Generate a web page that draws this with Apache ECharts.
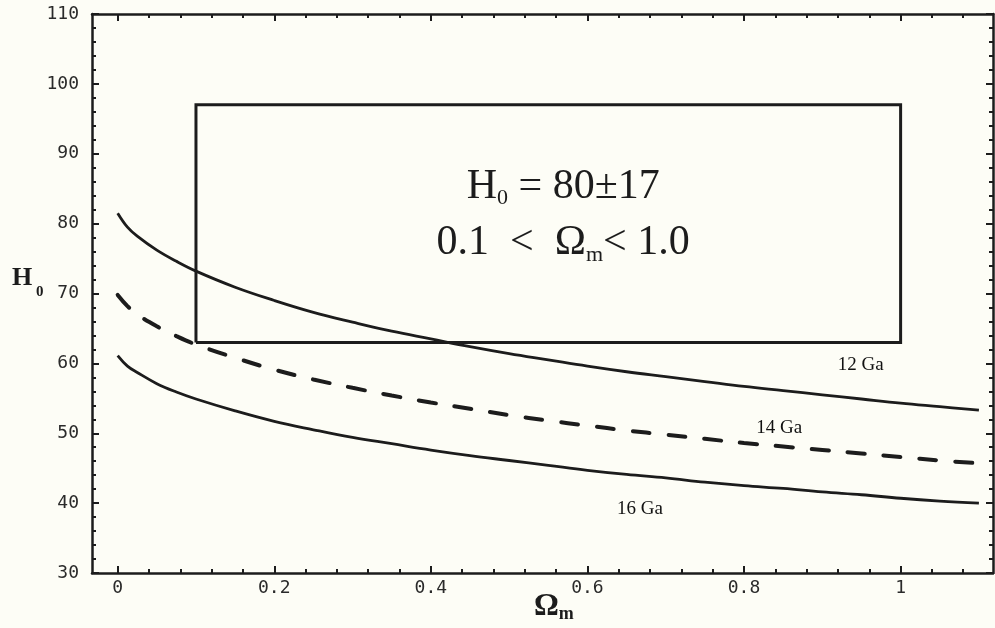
<!DOCTYPE html>
<html>
<head>
<meta charset="utf-8">
<script src="https://cdn.jsdelivr.net/npm/echarts@6/dist/echarts.min.js"></script>
<style>
  html, body { margin: 0; padding: 0; background: #fdfdf6; }
  #chart { width: 995px; height: 628px; }
</style>
</head>
<body>
<div id="chart"></div>
<script>
// Hubble constant vs. matter density for three universe ages
const omegaM = [0, 0.0125, 0.025, 0.05, 0.075, 0.1, 0.15, 0.2, 0.25, 0.3, 0.35, 0.4, 0.45, 0.5, 0.55, 0.6,
                0.65, 0.7, 0.75, 0.8, 0.85, 0.9, 0.95, 1.0, 1.05, 1.1];
const h12Ga = [81.5, 79.5, 78.2, 76.2, 74.6, 73.2, 70.9, 69.0, 67.3, 65.9, 64.6, 63.5, 62.4, 61.4, 60.5, 59.6,
               58.8, 58.1, 57.4, 56.7, 56.1, 55.5, 54.9, 54.3, 53.8, 53.3];
const h14Ga = [69.8, 68.2, 67.0, 65.3, 63.9, 62.7, 60.8, 59.1, 57.7, 56.5, 55.4, 54.4, 53.5, 52.6, 51.8, 51.1,
               50.4, 49.8, 49.2, 48.6, 48.1, 47.6, 47.1, 46.6, 46.1, 45.7];
const h16Ga = [61.1, 59.6, 58.7, 57.1, 55.9, 54.9, 53.2, 51.7, 50.5, 49.4, 48.5, 47.6, 46.8, 46.1, 45.4, 44.7,
               44.1, 43.6, 43.0, 42.5, 42.1, 41.6, 41.2, 40.7, 40.3, 40.0];

// allowed region: H0 = 80 ± 17, 0.1 < Ωm < 1.0
const boxOmega = [0.1, 1.0];
const boxH = [63, 97];

// curve labels: [text, Ωm, H0]
const curveLabels = [
  ['12 Ga', 0.949, 59.7],
  ['14 Ga', 0.845, 50.7],
  ['16 Ga', 0.667, 39.1]
];

const xTicks = [0, 0.2, 0.4, 0.6, 0.8, 1];
const xMinorTicks = [0.04, 0.08, 0.12, 0.16, 0.24, 0.28, 0.32, 0.36, 0.44, 0.48, 0.52, 0.56,
                     0.64, 0.68, 0.72, 0.76, 0.84, 0.88, 0.92, 0.96, 1.04, 1.08];
const xRange = [-0.0328, 1.118];
const yRange = [30, 110];
const yStep = 10;

const INK = '#1c1c1c';
const SERIF = '"Liberation Serif", "Times New Roman", serif';
const MONO = '"DejaVu Sans Mono", monospace';

const chart = echarts.init(document.getElementById('chart'), null, { renderer: 'canvas' });

function xAxisDef(position, ticks, len, withLine, withLabels) {
  return {
    type: 'value', position: position, min: xRange[0], max: xRange[1],
    axisLine: { show: withLine, onZero: false, lineStyle: { color: INK, width: 2.5 } },
    axisTick: { show: true, inside: true, length: len, customValues: ticks,
                lineStyle: { color: INK, width: 2 } },
    axisLabel: withLabels ? {
      show: true, customValues: ticks, margin: 6,
      fontFamily: MONO, fontSize: 18, color: '#2a2a2a'
    } : { show: false },
    splitLine: { show: false }
  };
}

function yAxisDef(position, withLabels) {
  return {
    type: 'value', position: position, min: yRange[0], max: yRange[1], interval: yStep,
    axisLine: { show: true, onZero: false, lineStyle: { color: INK, width: 2.5 } },
    axisTick: { show: true, inside: true, length: 7, lineStyle: { color: INK, width: 2 } },
    minorTick: { show: true, splitNumber: 5, length: 4, lineStyle: { color: INK, width: 2 } },
    axisLabel: withLabels ? {
      show: true, margin: 13, fontFamily: MONO, fontSize: 18, color: '#2a2a2a'
    } : { show: false },
    splitLine: { show: false }
  };
}

function pairs(ys) { return omegaM.map((x, i) => [x, ys[i]]); }

const boxPath = [
  [boxOmega[0], boxH[0]], [boxOmega[1], boxH[0]], [boxOmega[1], boxH[1]],
  [boxOmega[0], boxH[1]], [boxOmega[0], boxH[0]]
];

const curveStyle = { color: INK, width: 2.8 };

chart.setOption({
  backgroundColor: '#fdfdf6',
  animation: false,
  grid: { left: 92, right: 2, top: 14, bottom: 55, containLabel: false },
  xAxis: [
    xAxisDef('bottom', xTicks, 7, true, true),
    xAxisDef('bottom', xMinorTicks, 4, false, false),
    xAxisDef('top', xTicks, 7, true, false),
    xAxisDef('top', xMinorTicks, 4, false, false)
  ],
  yAxis: [yAxisDef('left', true), yAxisDef('right', false)],
  series: [
    { name: '12 Ga', type: 'line', data: pairs(h12Ga), showSymbol: false, smooth: 0.4,
      lineStyle: curveStyle, silent: true },
    { name: '14 Ga', type: 'line', data: pairs(h14Ga), showSymbol: false, smooth: 0.4,
      silent: true, lineStyle: { color: INK, width: 4, type: [17, 19], cap: 'round' } },
    { name: '16 Ga', type: 'line', data: pairs(h16Ga), showSymbol: false, smooth: 0.4,
      lineStyle: curveStyle, silent: true },
    { name: 'region', type: 'line', data: boxPath, showSymbol: false, silent: true,
      lineStyle: { color: INK, width: 3, join: 'miter' } }
  ]
});

// text layout helper: runs of mixed-size text placed left to right
const measureCtx = document.createElement('canvas').getContext('2d');
function fontStr(p) { return (p.weight || 'normal') + ' ' + p.size + 'px ' + SERIF; }
function textRuns(left, cy, parts, centered) {
  const widths = parts.map(p => { measureCtx.font = fontStr(p); return measureCtx.measureText(p.t).width; });
  const total = widths.reduce((a, b) => a + b, 0);
  let x = centered ? left - total / 2 : left;
  return parts.map((p, i) => {
    const el = {
      type: 'text', silent: true,
      style: { x: x, y: cy + (p.dy || 0), text: p.t, font: fontStr(p), fill: INK,
               align: 'left', verticalAlign: 'middle' }
    };
    x += widths[i];
    return el;
  });
}

const graphics = [];

// annotation inside the region box
const c1 = chart.convertToPixel({ xAxisIndex: 0, yAxisIndex: 0 }, [0.569, 85.3]);
const c2 = chart.convertToPixel({ xAxisIndex: 0, yAxisIndex: 0 }, [0.569, 77.3]);
graphics.push(...textRuns(c1[0], c1[1], [
  { t: 'H', size: 42 },
  { t: '0', size: 22, dy: 12 },
  { t: ' = 80\u00b117', size: 42 }
], true));
graphics.push(...textRuns(c2[0], c2[1], [
  { t: '0.1  <  \u03a9', size: 42 },
  { t: 'm', size: 22, dy: 13 },
  { t: '< 1.0', size: 42 }
], true));

// curve labels
curveLabels.forEach(([t, x, y]) => {
  const p = chart.convertToPixel({ xAxisIndex: 0, yAxisIndex: 0 }, [x, y]);
  graphics.push({
    type: 'text', silent: true,
    style: { x: p[0], y: p[1], text: t, font: '19px ' + SERIF, fill: '#111',
             align: 'center', verticalAlign: 'middle' }
  });
});

// axis titles
graphics.push(...textRuns(12, 278, [
  { t: 'H', size: 26, weight: 'bold' },
  { t: ' 0', size: 15, weight: 'bold', dy: 14 }
], false));
graphics.push(...textRuns(534, 607, [
  { t: '\u03a9', size: 31, weight: 'bold' },
  { t: 'm', size: 18, weight: 'bold', dy: 7 }
], false));

chart.setOption({ graphic: graphics });
</script>
</body>
</html>
